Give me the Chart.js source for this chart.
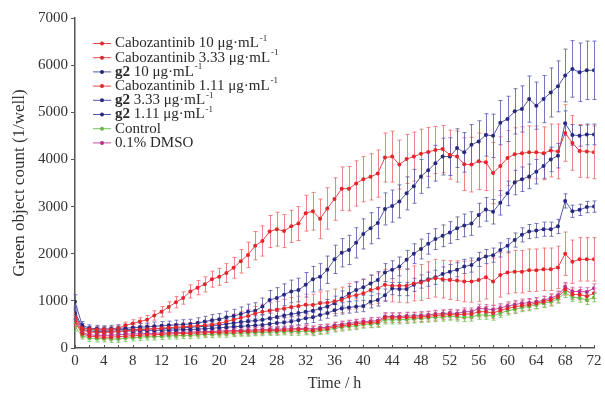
<!DOCTYPE html>
<html>
<head>
<meta charset="utf-8">
<script src="https://cdn.jsdelivr.net/npm/chart.js@4.4.1/dist/chart.umd.min.js"></script>
<style>
  html, body { margin: 0; padding: 0; background: #fff; }
  #wrap { width: 605px; height: 395px; }
</style>
</head>
<body>
<div id="wrap"><canvas id="growth-chart" width="605" height="395"></canvas></div>
<script>
// Time points (h)
const hours = [0,1,2,3,4,5,6,7,8,9,10,11,12,13,14,15,16,17,18,19,20,21,22,23,24,25,26,27,28,29,30,31,32,33,34,35,36,
  37,38,39,40,41,42,43,44,45,46,47,48,49,50,51,52,53,54,55,56,57,58,59,60,61,62,63,64,65,66,67,68,69,70,71,72];

// Mean green object count per series
const cabo10 = [650,420,400,390,400,390,420,480,520,560,600,690,770,870,970,1060,1200,1280,1350,1460,1510,1590,1700,1840,
  1975,2170,2270,2470,2520,2480,2580,2640,2860,2900,2740,2960,3160,3380,3380,3490,3580,3630,3700,4040,4060,3890,4010,4060,
  4120,4160,4200,4220,4100,4060,3900,3890,3960,3940,3710,3860,4030,4110,4130,4150,4150,4130,4190,4170,4560,4350,4180,4170,4150];
const cabo333 = [600,380,340,330,330,340,350,360,380,390,400,410,420,430,440,450,460,470,480,500,520,560,600,640,680,730,
  770,790,810,840,870,890,920,910,950,960,990,1020,1090,1120,1160,1230,1270,1340,1320,1320,1320,1370,1390,1440,1480,1460,
  1440,1430,1410,1410,1440,1500,1410,1550,1600,1620,1620,1650,1650,1670,1670,1710,2000,1830,1880,1880,1880];
const g2_10 = [980,480,420,410,400,410,420,420,430,440,450,460,470,480,490,500,510,530,560,590,610,650,680,720,770,790,
  880,1020,1060,1130,1200,1230,1340,1460,1510,1660,1880,2020,2080,2230,2420,2540,2650,2950,3010,3110,3280,3430,3640,3770,
  3920,4060,4060,4240,4150,4310,4380,4520,4500,4780,4860,5020,5070,5280,5140,5280,5420,5550,5780,5920,5850,5890,5890];
const cabo111 = [550,300,250,240,230,230,240,250,260,270,280,280,290,300,300,310,310,320,320,330,330,340,340,350,350,360,
  360,370,370,380,380,390,390,370,400,410,450,470,490,510,530,540,550,640,640,640,650,650,660,670,690,700,710,700,720,720,
  770,770,740,800,840,870,900,920,950,980,1020,1080,1240,1140,1130,1100,1160];
const g2_333 = [750,450,390,380,380,380,390,390,390,400,400,410,410,420,420,430,440,450,460,470,490,510,530,550,570,580,
  600,630,660,690,720,740,770,790,840,880,950,1050,1150,1230,1290,1370,1440,1600,1660,1730,1870,2000,2100,2210,2310,2380,
  2450,2540,2600,2640,2820,2940,2890,3080,3280,3510,3580,3640,3740,3860,4000,4080,4770,4520,4500,4530,4530];
const g2_111 = [700,400,360,350,350,350,360,360,360,370,370,370,380,380,380,390,390,400,410,420,430,440,450,460,470,480,
  490,510,530,540,560,590,630,650,700,740,800,840,860,880,890,980,1020,1120,1260,1250,1250,1340,1410,1460,1500,1570,1620,
  1660,1730,1760,1880,1940,1970,2080,2170,2290,2400,2470,2490,2520,2520,2580,3120,2900,2930,2990,3000];
const control = [450,260,210,200,200,190,190,210,220,230,240,240,250,260,260,270,270,280,290,290,300,300,310,320,320,330,
  330,340,340,350,350,350,360,340,370,380,420,440,460,470,500,510,520,600,600,600,610,620,630,640,650,660,680,660,650,660,
  700,700,680,740,790,820,860,880,920,950,980,1040,1170,1080,1060,1020,1070];
const dmso = [600,330,280,270,270,270,280,290,300,300,310,310,320,320,330,330,340,340,350,350,360,360,370,370,380,380,390,
  390,400,400,410,410,420,400,430,440,480,500,520,540,560,570,580,670,670,670,680,680,690,700,720,730,740,730,770,770,840,
  830,810,850,890,920,950,960,980,1010,1060,1120,1300,1200,1200,1190,1270];

// Error bar half-heights (SD) per series
const cabo10Err = [80,60,60,60,60,60,70,70,80,80,90,100,110,110,120,130,140,150,160,170,180,200,220,250,270,300,320,340,
  360,350,340,360,380,400,420,440,450,460,470,480,480,490,500,520,540,520,520,520,520,520,500,500,520,540,560,580,600,600,
  650,620,580,560,560,560,560,560,560,580,600,580,560,560,560];
const cabo333Err = [80,60,60,60,60,60,60,60,60,60,70,70,70,70,80,80,80,90,90,100,100,110,120,130,140,150,160,170,180,190,
  200,210,220,230,240,250,260,270,280,290,300,310,320,330,340,350,360,370,380,390,400,400,410,420,430,440,450,460,500,470,
  450,450,450,450,450,450,450,450,460,460,460,460,460];
const g2_10Err = [150,80,70,70,70,70,70,80,80,80,80,90,90,90,100,100,100,110,110,120,120,130,140,150,160,170,180,200,220,
  230,240,250,260,270,280,290,300,300,310,320,320,330,330,340,340,350,350,360,360,370,380,390,400,410,420,430,440,450,460,
  470,480,480,490,490,500,500,520,540,560,600,620,620,620];
const cabo111Err = [90,70,60,60,60,60,60,60,60,60,60,60,60,60,70,70,70,70,70,70,70,70,80,80,80,80,80,80,80,80,80,80,90,90,
  90,90,90,90,90,90,90,100,100,100,100,100,100,100,100,100,100,100,100,100,100,100,110,110,110,110,110,110,110,110,110,110,
  110,110,120,110,110,110,110];
const g2_333Err = [120,70,60,60,60,60,60,60,60,60,60,60,70,70,70,70,80,80,80,80,90,90,90,100,100,100,110,110,120,120,120,
  130,130,140,140,150,150,160,160,170,170,180,180,190,190,200,200,210,210,220,220,230,230,240,240,250,250,250,260,260,260,
  260,260,260,260,260,260,260,260,220,220,220,220];
const g2_111Err = [100,60,50,50,50,50,50,50,50,50,60,60,60,60,60,60,70,70,70,70,70,80,80,80,80,90,90,90,100,100,100,100,
  110,110,110,110,120,120,120,120,120,130,130,130,130,140,140,140,140,150,150,150,150,150,150,150,150,150,150,150,150,150,
  150,150,150,150,150,150,150,130,120,120,120];
const controlErr = [90,70,70,70,70,70,70,70,70,70,70,70,70,70,70,70,70,70,70,70,70,70,70,70,70,70,70,70,70,70,80,80,80,80,
  80,80,80,80,80,80,80,80,80,90,90,90,90,90,90,90,90,90,90,90,90,90,90,90,90,90,90,90,90,90,90,90,90,90,100,90,90,100,90];
const dmsoErr = [90,60,60,60,60,60,60,60,60,60,60,60,60,60,60,60,60,60,60,60,60,60,60,60,60,60,60,60,60,60,70,70,70,70,70,
  70,70,70,70,70,70,70,70,80,80,80,80,80,80,80,80,80,80,80,80,80,90,90,90,90,90,90,90,90,90,90,90,90,90,90,90,90,90];

const seriesLabels = [
  "Cabozantinib 10 μg·mL⁻¹",
  "Cabozantinib 3.33 μg·mL⁻¹",
  "g2 10 μg·mL⁻¹",
  "Cabozantinib 1.11 μg·mL⁻¹",
  "g2 3.33 μg·mL⁻¹",
  "g2 1.11 μg·mL⁻¹",
  "Control",
  "0.1% DMSO",
];

const RED = { mark: "#e3262b", line: "#e8474a", err: "rgba(236,110,110,0.85)" };
const BLUE = { mark: "#27287e", line: "#5557a8", err: "rgba(95,95,175,0.85)" };
const GREEN = { mark: "#63b842", line: "#78c45a", err: "rgba(120,200,90,0.9)" };
const MAGENTA = { mark: "#b8318f", line: "#c24c9d", err: "rgba(200,100,175,0.85)" };

const FONT = "'Liberation Serif', 'DejaVu Serif', 'Times New Roman', serif";

function makeSet(label, values, errors, c) {
  return {
    label: label,
    data: hours.map((h, i) => ({ x: h, y: values[i] })),
    errors: errors,
    errColor: c.err,
    borderColor: c.line,
    backgroundColor: c.mark,
    pointBackgroundColor: c.mark,
    pointBorderColor: c.mark,
    pointRadius: 2,
    pointBorderWidth: 0,
    borderWidth: 1,
    tension: 0,
  };
}

// Error bars drawn through the chart scales
const errorBarPlugin = {
  id: "errorBars",
  beforeDatasetsDraw(chart) {
    const ctx = chart.ctx;
    const xs = chart.scales.x;
    const ys = chart.scales.y;
    ctx.save();
    ctx.lineWidth = 1;
    chart.data.datasets.forEach((ds) => {
      ctx.strokeStyle = ds.errColor;
      ds.data.forEach((p, j) => {
        const e = ds.errors[j];
        const px = Math.round(xs.getPixelForValue(p.x)) + 0.5;
        const top = ys.getPixelForValue(p.y + e);
        const bot = ys.getPixelForValue(Math.max(p.y - e, 0));
        ctx.beginPath();
        ctx.moveTo(px, top);
        ctx.lineTo(px, bot);
        ctx.moveTo(px - 2, top);
        ctx.lineTo(px + 2, top);
        ctx.moveTo(px - 2, bot);
        ctx.lineTo(px + 2, bot);
        ctx.stroke();
      });
    });
    ctx.restore();
  },
};

// Inward minor ticks on the time axis
const timeTickPlugin = {
  id: "timeTicks",
  afterDraw(chart) {
    const ctx = chart.ctx;
    const xs = chart.scales.x;
    const bottom = chart.chartArea.bottom;
    ctx.save();
    ctx.strokeStyle = "#555";
    ctx.lineWidth = 1;
    for (let h = 0; h <= 72; h += 2) {
      const px = Math.round(xs.getPixelForValue(h)) + 0.5;
      ctx.beginPath();
      ctx.moveTo(px, bottom);
      ctx.lineTo(px, bottom - 3);
      ctx.stroke();
    }
    ctx.restore();
  },
};

// Legend with bold "g2" and superscript units
const legendPlugin = {
  id: "customLegend",
  afterDraw(chart) {
    const ctx = chart.ctx;
    ctx.save();
    ctx.textBaseline = "middle";
    chart.data.datasets.forEach((ds, i) => {
      const y = 43.5 + i * 14.2;
      ctx.strokeStyle = ds.borderColor;
      ctx.lineWidth = 1;
      ctx.beginPath();
      ctx.moveTo(93, y);
      ctx.lineTo(111, y);
      ctx.stroke();
      ctx.fillStyle = ds.pointBackgroundColor;
      ctx.beginPath();
      ctx.arc(102, y, 2, 0, Math.PI * 2);
      ctx.fill();

      let text = ds.label;
      let x = 115;
      ctx.fillStyle = "#2a2a2a";
      let sup = false;
      if (text.endsWith("⁻¹")) {
        text = text.slice(0, -2);
        sup = true;
      }
      if (text.startsWith("g2 ")) {
        ctx.font = "bold 15px " + FONT;
        ctx.fillText("g2", x, y);
        x += ctx.measureText("g2").width;
        text = text.slice(2);
      }
      ctx.font = "15px " + FONT;
      ctx.fillText(text, x, y);
      x += ctx.measureText(text).width;
      if (sup) {
        ctx.font = "9px " + FONT;
        ctx.fillText("-1", x + 1, y - 5);
      }
    });
    ctx.restore();
  },
};

function initializeChart() {
  const ctx = document.getElementById("growth-chart").getContext("2d");
  new Chart(ctx, {
    type: "line",
    data: {
      datasets: [
        makeSet(seriesLabels[0], cabo10, cabo10Err, RED),
        makeSet(seriesLabels[1], cabo333, cabo333Err, RED),
        makeSet(seriesLabels[2], g2_10, g2_10Err, BLUE),
        makeSet(seriesLabels[3], cabo111, cabo111Err, RED),
        makeSet(seriesLabels[4], g2_333, g2_333Err, BLUE),
        makeSet(seriesLabels[5], g2_111, g2_111Err, BLUE),
        makeSet(seriesLabels[6], control, controlErr, GREEN),
        makeSet(seriesLabels[7], dmso, dmsoErr, MAGENTA),
      ],
    },
    options: {
      responsive: false,
      animation: false,
      devicePixelRatio: 1,
      layout: { padding: { top: 18, right: 11, left: 0, bottom: 0 } },
      plugins: {
        legend: { display: false },
        tooltip: { enabled: false },
      },
      scales: {
        x: {
          type: "linear",
          min: 0,
          max: 72,
          ticks: {
            stepSize: 4,
            color: "#333",
            padding: 4,
            maxRotation: 0,
            font: { family: FONT, size: 15 },
          },
          grid: { display: false, drawTicks: false },
          border: { display: true, color: "#555", width: 1.5 },
          title: {
            display: true,
            text: "Time / h",
            color: "#333",
            padding: { top: 0, bottom: 2 },
            font: { family: FONT, size: 16 },
          },
          afterFit(scale) {
            scale.height = 47;
            scale.paddingLeft = 0;
            scale.paddingRight = 0;
          },
        },
        y: {
          min: 0,
          max: 7000,
          ticks: {
            stepSize: 1000,
            color: "#333",
            padding: 3,
            font: { family: FONT, size: 15 },
            callback: (v) => String(v),
          },
          grid: {
            display: true,
            drawOnChartArea: false,
            drawTicks: true,
            tickLength: 4,
            color: "#555",
          },
          border: { display: true, color: "#555", width: 1.5 },
          title: {
            display: true,
            text: "Green object count (1/well)",
            color: "#333",
            padding: { top: 9, bottom: 0 },
            font: { family: FONT, size: 17 },
          },
          afterFit(scale) {
            scale.width = 75;
            scale.paddingTop = 0;
            scale.paddingBottom = 0;
          },
        },
      },
    },
    plugins: [errorBarPlugin, timeTickPlugin, legendPlugin],
  });
}

document.addEventListener("DOMContentLoaded", initializeChart);
</script>
</body>
</html>
